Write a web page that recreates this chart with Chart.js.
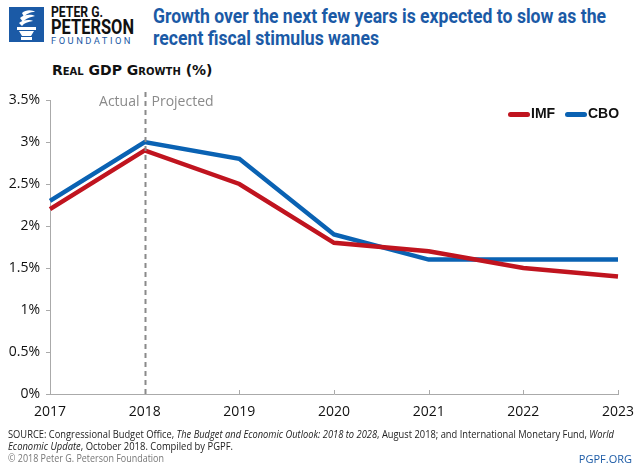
<!DOCTYPE html>
<html>
<head>
<meta charset="utf-8">
<script src="https://cdn.jsdelivr.net/npm/chart.js@4.4.1/dist/chart.umd.min.js"></script>
<style>
  html, body { margin: 0; padding: 0; background: #fff; }
  body { width: 640px; height: 467px; position: relative; overflow: hidden; font-family: "Open Sans", "DejaVu Sans", sans-serif; }
  #chartWrap { position: absolute; left: 0; top: 0; width: 640px; height: 467px; }
  .fit { white-space: nowrap; transform-origin: left top; display: inline-block; }
  .logo { position: absolute; left: 9px; top: 7px; width: 35px; height: 35px; background: #1b5aa6; }
  .logo-text { position: absolute; left: 51px; top: 5px; font-family: Roboto, sans-serif; font-weight: bold; color: #111; }
  .logo-text div { position: absolute; left: 0; }
  .logo-text .l1 { top: 0; font-size: 14px; line-height: 14px; }
  .logo-text .l2 { top: 12px; font-size: 21px; line-height: 21px; }
  .logo-text .l3 { top: 31px; font-size: 9px; line-height: 10px; color: #1b5aa6; letter-spacing: 2.4px; font-weight: normal; }
  .title { position: absolute; left: 153px; font-family: Roboto, sans-serif; font-weight: bold; font-size: 21px; line-height: 23px; color: #1b5aa6; }
  .subtitle { position: absolute; left: 52px; top: 62px; font-family: "DejaVu Sans", sans-serif; font-weight: bold; font-size: 14px; font-variant: small-caps; color: #111; }
  .legend { position: absolute; top: 105px; left: 508px; font-family: "Liberation Sans", sans-serif; font-weight: bold; font-size: 14px; color: #111; }
  .legend span.sw { display: inline-block; width: 22px; height: 5px; border-radius: 3px; vertical-align: middle; margin-right: 1px; }
  .legend .item { margin-right: 6px; }
  .source { position: absolute; left: 8px; font-size: 10.5px; line-height: 12px; color: #222; font-family: "Open Sans", sans-serif; }
  .copy { position: absolute; left: 8px; top: 451px; font-size: 10.5px; color: #777; font-family: "Open Sans", sans-serif; }
  .site { position: absolute; right: 8px; top: 451px; font-size: 11px; color: #1b5aa6; font-family: "Open Sans", sans-serif; }
</style>
</head>
<body>
<div class="logo">
  <svg width="35" height="35" viewBox="0 0 35 35">
    <path d="M13 6 C17 2, 24 3, 26 5 C21 5, 17 7, 15 10 Z" fill="#fff"/>
    <path d="M11 11 C15 7, 23 7, 26 9 C21 10, 16 12, 14 15 Z" fill="#fff"/>
    <path d="M10 16 C13 13, 21 12, 24 14 C19 15, 15 16, 13 19 Z" fill="#fff"/>
    <rect x="8" y="20" width="19" height="3" fill="#fff"/>
    <path d="M10 24 H25 L22 29 H13 Z" fill="#fff"/>
    <rect x="12" y="30" width="11" height="3" fill="#fff"/>
  </svg>
</div>
<div class="logo-text">
  <div class="l1 fit" data-w="52">PETER G.</div>
  <div class="l2 fit" data-w="83">PETERSON</div>
  <div class="l3 fit" data-w="82">FOUNDATION</div>
</div>
<div class="title" style="top:5px"><span class="fit" data-w="453">Growth over the next few years is expected to slow as the</span></div>
<div class="title" style="top:27px"><span class="fit" data-w="226">recent fiscal stimulus wanes</span></div>
<div class="subtitle">Real GDP Growth (%)</div>
<div id="chartWrap"><canvas id="c" width="640" height="467"></canvas></div>
<div class="legend">
  <span class="item"><span class="sw" style="background:#c0141f"></span>IMF</span>
  <span class="item"><span class="sw" style="background:#0a62b3"></span>CBO</span>
</div>
<div class="source" style="top:428px"><span class="fit" data-w="606">SOURCE: Congressional Budget Office, <i>The Budget and Economic Outlook: 2018 to 2028</i>, August 2018; and International Monetary Fund, <i>World</i></span></div>
<div class="source" style="top:440px"><span class="fit" data-w="225"><i>Economic Update</i>, October 2018. Compiled by PGPF.</span></div>
<div class="copy"><span class="fit" data-w="156">© 2018 Peter G. Peterson Foundation</span></div>
<div class="site">PGPF.ORG</div>
<script>
// data
const years = ['2017', '2018', '2019', '2020', '2021', '2022', '2023'];
const imfValues = [2.2, 2.9, 2.5, 1.8, 1.7, 1.5, 1.4];
const cboValues = [2.3, 3.0, 2.8, 1.9, 1.6, 1.6, 1.6];
const yTicks = [0, 0.5, 1, 1.5, 2, 2.5, 3, 3.5];
const splitYear = '2018';

const RED = '#c0141f';
const BLUE = '#0a62b3';

// squeeze text spans to the widths seen in the reference
document.querySelectorAll('.fit').forEach(el => {
    const w = el.getBoundingClientRect().width;
    const target = parseFloat(el.dataset.w);
    if (w > 0) el.style.transform = 'scaleX(' + (target / w) + ')';
});

// dashed line at the actual/projected split + small upward ticks on x axis
const splitPlugin = {
    id: 'splitLine',
    afterDatasetsDraw(chart) {
        const ctx = chart.ctx;
        const x = chart.scales.x;
        const area = chart.chartArea;
        ctx.save();
        ctx.strokeStyle = '#aaa';
        ctx.lineWidth = 1;
        years.forEach((yr, i) => {
            const px = Math.round(x.getPixelForValue(i)) + 0.5;
            ctx.beginPath();
            ctx.moveTo(px, area.bottom);
            ctx.lineTo(px, area.bottom - 4);
            ctx.stroke();
        });
        const sx = Math.round(x.getPixelForValue(years.indexOf(splitYear))) + 0.5;
        ctx.strokeStyle = '#8a8a8a';
        ctx.lineWidth = 2;
        ctx.setLineDash([5, 4]);
        ctx.beginPath();
        ctx.moveTo(sx, area.top - 8);
        ctx.lineTo(sx, area.bottom);
        ctx.stroke();
        ctx.setLineDash([]);
        ctx.fillStyle = '#8a8a8a';
        ctx.font = '14px "Open Sans", sans-serif';
        ctx.textBaseline = 'middle';
        ctx.textAlign = 'right';
        ctx.fillText('Actual', sx - 6, area.top + 2);
        ctx.textAlign = 'left';
        ctx.fillText('Projected', sx + 6, area.top + 2);
        ctx.restore();
    }
};

new Chart(document.getElementById('c'), {
    type: 'line',
    data: {
        labels: years,
        datasets: [
            { label: 'IMF', data: imfValues, borderColor: RED, backgroundColor: RED },
            { label: 'CBO', data: cboValues, borderColor: BLUE, backgroundColor: BLUE }
        ]
    },
    options: {
        responsive: false,
        animation: false,
        layout: { padding: { left: 0, top: 100, right: 22, bottom: 43 } },
        elements: {
            line: { borderWidth: 4.5, tension: 0, borderCapStyle: 'butt', borderJoinStyle: 'miter' },
            point: { radius: 0 }
        },
        plugins: { legend: { display: false }, tooltip: { enabled: false } },
        scales: {
            x: {
                offset: false,
                grid: { display: false },
                border: { color: '#aaa', width: 1 },
                ticks: { color: '#111', font: { size: 14, family: '"Open Sans", sans-serif' }, maxRotation: 0, autoSkip: false, padding: 2 },
                afterFit(scale) { scale.height = 30; }
            },
            y: {
                min: 0,
                max: 3.5,
                afterBuildTicks(scale) { scale.ticks = yTicks.map(v => ({ value: v })); },
                grid: { drawOnChartArea: false, tickLength: 4, color: '#aaa' },
                border: { color: '#aaa', width: 1 },
                ticks: {
                    color: '#111',
                    font: { size: 14, family: '"Open Sans", sans-serif' },
                    padding: 6,
                    callback: v => v + '%'
                },
                afterFit(scale) { scale.width = 50; }
            }
        }
    },
    plugins: [splitPlugin]
});
</script>
</body>
</html>
